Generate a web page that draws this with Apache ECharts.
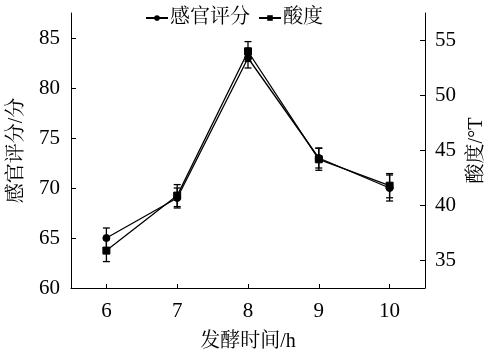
<!DOCTYPE html>
<html>
<head>
<meta charset="utf-8">
<script src="https://cdn.jsdelivr.net/npm/echarts@6/dist/echarts.min.js"></script>
<style>html,body{margin:0;padding:0;background:#fff;}#c{width:493px;height:359px;}</style>
</head>
<body>
<div id="c"></div>
<script>
var categories = ['6', '7', '8', '9', '10'];
var sensoryScore = [65.0, 69.0, 83.0, 73.0, 70.0];
var sensoryErr = [1.0, 1.0, 1.0, 1.0, 1.3];
var acidity = [35.9, 40.9, 54.0, 44.2, 41.8];
var acidityErr = [1.0, 1.0, 0.9, 1.0, 1.1];
var leftTicks = [60, 65, 70, 75, 80, 85];
var rightTicks = [35, 40, 45, 50, 55];

var FONT = "'Liberation Serif', 'Noto Serif CJK SC', 'Noto Sans CJK SC', serif";
var chart = echarts.init(document.getElementById('c'), null, {renderer: 'canvas'});

function errData(vals, errs) {
  return vals.map(function (v, i) { return [i, v - errs[i], v + errs[i]]; });
}
function errRender(params, api) {
  var x = api.value(0);
  var lo = api.coord([x, api.value(1)]);
  var hi = api.coord([x, api.value(2)]);
  var w = 3.5;
  var st = {stroke: '#000', lineWidth: 1.3};
  return {
    type: 'group',
    children: [
      {type: 'line', shape: {x1: lo[0], y1: lo[1], x2: hi[0], y2: hi[1]}, style: st},
      {type: 'line', shape: {x1: lo[0] - w, y1: lo[1], x2: lo[0] + w, y2: lo[1]}, style: st},
      {type: 'line', shape: {x1: hi[0] - w, y1: hi[1], x2: hi[0] + w, y2: hi[1]}, style: st}
    ]
  };
}

var option = {
  backgroundColor: '#fff',
  animation: false,
  textStyle: {fontFamily: FONT, color: '#000'},
  grid: {left: 71, right: 68, top: 13, bottom: 71, containLabel: false, outerBoundsMode: 'none'},
  legend: {
    left: 140, top: 3,
    itemWidth: 22, itemHeight: 7, itemGap: 8,
    textStyle: {fontFamily: FONT, fontSize: 20, color: '#000', padding: [0, 0, 0, -3]},
    data: ['感官评分', '酸度']
  },
  xAxis: {
    type: 'category',
    data: categories,
    boundaryGap: true,
    name: '发酵时间/h',
    nameLocation: 'middle',
    nameGap: 44,
    nameTextStyle: {fontFamily: FONT, fontSize: 20, color: '#000'},
    axisLine: {show: true, lineStyle: {color: '#000', width: 1}},
    axisTick: {show: true, inside: true, length: 4, alignWithLabel: true, lineStyle: {color: '#000'}},
    axisLabel: {fontFamily: FONT, fontSize: 21, color: '#000', margin: 13},
    splitLine: {show: false}
  },
  yAxis: [
    {
      type: 'value', position: 'left',
      min: 60, max: 87.5,
      name: '感官评分/分',
      nameLocation: 'middle', nameRotate: 90, nameGap: 44,
      nameTextStyle: {fontFamily: FONT, fontSize: 20, color: '#000'},
      axisLine: {show: true, lineStyle: {color: '#000', width: 1}},
      axisTick: {show: true, inside: true, length: 5, customValues: leftTicks, lineStyle: {color: '#000'}},
      axisLabel: {fontFamily: FONT, fontSize: 21, color: '#000', margin: 11, customValues: leftTicks},
      splitLine: {show: false}
    },
    {
      type: 'value', position: 'right',
      min: 32.5, max: 57.5,
      name: '酸度/°T',
      nameLocation: 'middle', nameRotate: 90, nameGap: 37,
      nameTextStyle: {fontFamily: FONT, fontSize: 20, color: '#000'},
      axisLine: {show: true, lineStyle: {color: '#000', width: 1}},
      axisTick: {show: true, inside: true, length: 5, customValues: rightTicks, lineStyle: {color: '#000'}},
      axisLabel: {fontFamily: FONT, fontSize: 21, color: '#000', margin: 10, customValues: rightTicks},
      splitLine: {show: false}
    }
  ],
  series: [
    {
      type: 'custom', yAxisIndex: 0, renderItem: errRender,
      data: errData(sensoryScore, sensoryErr), silent: true, z: 1
    },
    {
      type: 'custom', yAxisIndex: 1, renderItem: errRender,
      data: errData(acidity, acidityErr), silent: true, z: 1
    },
    {
      name: '感官评分', type: 'line', yAxisIndex: 0,
      data: sensoryScore,
      symbol: 'circle', symbolSize: 7,
      lineStyle: {color: '#000', width: 1.3},
      itemStyle: {color: '#000', borderColor: '#000'},
      z: 3
    },
    {
      name: '酸度', type: 'line', yAxisIndex: 1,
      data: acidity,
      symbol: 'rect', symbolSize: 7,
      lineStyle: {color: '#000', width: 1.3},
      itemStyle: {color: '#000', borderColor: '#000'},
      z: 3
    }
  ]
};
chart.setOption(option);
</script>
</body>
</html>
